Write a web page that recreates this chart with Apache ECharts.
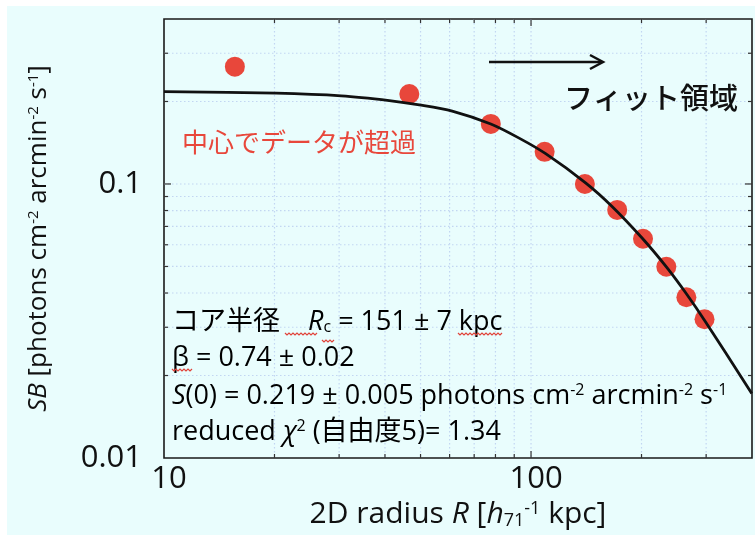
<!DOCTYPE html>
<html>
<head>
<meta charset="utf-8">
<script src="https://cdn.jsdelivr.net/npm/echarts@6/dist/echarts.min.js"></script>
<style>
  html, body { margin: 0; padding: 0; background: #ffffff; }
  #bg { position: absolute; left: 7px; top: 6px; width: 748px; height: 529px; background: #e9fdfd; }
  #chart { position: absolute; left: 0; top: 0; width: 755px; height: 535px; }
</style>
</head>
<body>
<div id="bg"></div>
<div id="chart"></div>
<script>
// ---- data ----
const xTickValues = [10, 100];
const xTickLabels = ['10', '100'];
const yTickValues = [0.01, 0.1];
const yTickLabels = ['0.01', '0.1'];
const xGridValues = [20, 30, 40, 50, 60, 70, 80, 90, 100, 200, 300];
const yGridValues = [0.02, 0.03, 0.04, 0.05, 0.06, 0.07, 0.08, 0.09, 0.1, 0.2, 0.3];

const dataRadius = [15.6, 46.6, 77.7, 108.9, 140.2, 171.7, 201.9, 233.7, 265, 297];
const dataSB = [0.268, 0.213, 0.1657, 0.131, 0.100, 0.0804, 0.0631, 0.0499, 0.0386, 0.0321];

const fitRadius = [10, 20.2, 30.4, 41.1, 49.6, 61.0, 77.7, 92.8, 109.6, 140.8, 166.0, 200.7, 234.6, 265.9, 298.4, 399.4];
const fitSB = [0.2174, 0.2145, 0.2097, 0.2016, 0.1945, 0.1845, 0.1655, 0.1470, 0.1290, 0.1010, 0.0830, 0.0635, 0.0495, 0.0395, 0.0315, 0.0172];

const X_MIN = 10, X_MAX = 400, Y_MIN = 0.01, Y_MAX = 0.4;

// ---- chart ----
const FONT = "'Open Sans', 'Noto Sans CJK JP', sans-serif";
const chart = echarts.init(document.getElementById('chart'), null, { renderer: 'canvas' });

function labelFor(values, labels) {
  return function (v) {
    for (let i = 0; i < values.length; i++) {
      if (Math.abs(Math.log10(v) - Math.log10(values[i])) < 1e-6) return labels[i];
    }
    return '';
  };
}

const GRID_COLOR = '#c2d6f2';
const TICK_COLOR = '#333333';

function gridRender(isX) {
  return function (params, api) {
    const cs = params.coordSys;
    const p = api.coord([api.value(0), api.value(1)]);
    const major = api.value(2) === 1;
    const len = major ? 7 : 4;
    const children = [];
    if (isX) {
      const x = p[0];
      children.push({ type: 'line', shape: { x1: x, y1: cs.y, x2: x, y2: cs.y + cs.height },
        style: { stroke: GRID_COLOR, lineWidth: 1.2, lineDash: [1.5, 2.5] } });
      children.push({ type: 'line', shape: { x1: x, y1: cs.y + cs.height, x2: x, y2: cs.y + cs.height - len },
        style: { stroke: TICK_COLOR, lineWidth: 1.2 } });
      children.push({ type: 'line', shape: { x1: x, y1: cs.y, x2: x, y2: cs.y + len },
        style: { stroke: TICK_COLOR, lineWidth: 1.2 } });
    } else {
      const y = p[1];
      children.push({ type: 'line', shape: { x1: cs.x, y1: y, x2: cs.x + cs.width, y2: y },
        style: { stroke: GRID_COLOR, lineWidth: 1.2, lineDash: [1.5, 2.5] } });
      children.push({ type: 'line', shape: { x1: cs.x, y1: y, x2: cs.x + len, y2: y },
        style: { stroke: TICK_COLOR, lineWidth: 1.2 } });
      children.push({ type: 'line', shape: { x1: cs.x + cs.width, y1: y, x2: cs.x + cs.width - len, y2: y },
        style: { stroke: TICK_COLOR, lineWidth: 1.2 } });
    }
    return { type: 'group', children: children };
  };
}

const supStyle = { fontSize: 16, verticalAlign: 'top', lineHeight: 15, fontFamily: FONT, color: '#111' };
const subStyle = { fontSize: 16, verticalAlign: 'bottom', lineHeight: 15, fontFamily: FONT, color: '#111' };

function zigzag(x1, x2, y) {
  const pts = [];
  let up = true;
  for (let x = x1; x <= x2; x += 2) { pts.push([x, up ? y - 1 : y + 1]); up = !up; }
  return { type: 'polyline', z: 11, shape: { points: pts }, style: { stroke: '#e0433a', lineWidth: 1.2, fill: null }, silent: true };
}

const statsRich = {
  base: { fontSize: 27, fontFamily: FONT, color: '#111' },
  i: { fontSize: 27, fontFamily: FONT, fontStyle: 'italic', color: '#111' },
  sup: supStyle,
  sub: subStyle
};

const option = {
  animation: false,
  backgroundColor: 'transparent',
  grid: { left: 164, top: 19, width: 590, height: 439, show: true, backgroundColor: 'transparent',
          borderColor: '#1a1a1a', borderWidth: 1.6 },
  xAxis: {
    type: 'log', logBase: 10, min: X_MIN, max: X_MAX,
    axisLine: { show: false }, axisTick: { show: false }, splitLine: { show: false },
    axisLabel: { fontSize: 31, fontFamily: FONT, color: '#111', margin: 6, padding: [0, 0, 0, 10],
                 formatter: labelFor(xTickValues, xTickLabels), showMinLabel: true, showMaxLabel: true },
    name: '2D radius {i|R} [{i|h}{sub|71}{sup|-1} kpc]',
    nameLocation: 'middle', nameGap: 38,
    nameTextStyle: { fontSize: 30, fontFamily: FONT, color: '#111',
      rich: { i: { fontSize: 30, fontStyle: 'italic', fontFamily: FONT, color: '#111' },
              sub: { fontSize: 18, verticalAlign: 'bottom', lineHeight: 16, fontFamily: FONT, color: '#111' },
              sup: { fontSize: 18, verticalAlign: 'top', lineHeight: 16, fontFamily: FONT, color: '#111' } } }
  },
  yAxis: {
    type: 'log', logBase: 10, min: Y_MIN, max: Y_MAX,
    axisLine: { show: false }, axisTick: { show: false }, splitLine: { show: false },
    axisLabel: { fontSize: 31, fontFamily: FONT, color: '#111', margin: 22, formatter: labelFor(yTickValues, yTickLabels) },
    name: '{i|SB} [photons cm{sup|-2} arcmin{sup|-2} s{sup|-1}]',
    nameLocation: 'middle', nameGap: 112,
    nameTextStyle: { fontSize: 26, fontFamily: FONT, color: '#111',
      rich: { i: { fontSize: 26, fontStyle: 'italic', fontFamily: FONT, color: '#111' },
              sup: { fontSize: 15, verticalAlign: 'top', lineHeight: 15, fontFamily: FONT, color: '#111' } } }
  },
  series: [
    { type: 'custom', name: 'xgrid', z: 1, silent: true, clip: false,
      data: xGridValues.map(v => [v, Y_MIN, xTickValues.indexOf(v) >= 0 ? 1 : 0]),
      encode: { x: 0, y: 1 }, renderItem: gridRender(true) },
    { type: 'custom', name: 'ygrid', z: 1, silent: true, clip: false,
      data: yGridValues.map(v => [X_MIN, v, yTickValues.indexOf(v) >= 0 ? 1 : 0]),
      encode: { x: 0, y: 1 }, renderItem: gridRender(false) },
    { type: 'scatter', name: 'data', z: 3, symbol: 'circle', symbolSize: 20,
      itemStyle: { color: '#e8473b', opacity: 1 },
      data: dataRadius.map((r, i) => [r, dataSB[i]]) },
    { type: 'line', name: 'fit', z: 4, showSymbol: false, smooth: 0.3, clip: true,
      lineStyle: { color: '#111', width: 2.8 },
      data: fitRadius.map((r, i) => [r, fitSB[i]]) }
  ],
  graphic: [
    // arrow
    { type: 'line', shape: { x1: 489, y1: 62, x2: 602, y2: 62 }, style: { stroke: '#111', lineWidth: 2.5 }, z: 10 },
    { type: 'polyline', shape: { points: [[590, 55], [603, 62], [590, 69]] }, style: { stroke: '#111', lineWidth: 2.5, fill: null }, z: 10 },
    { type: 'text', x: 564, y: 101, z: 10,
      style: { text: 'フィット領域', fontSize: 29, fontWeight: 500, fontFamily: FONT, fill: '#111', verticalAlign: 'middle', align: 'left' } },
    { type: 'text', x: 182, y: 145, z: 10,
      style: { text: '中心でデータが超過', fontSize: 26, fontFamily: FONT, fill: '#e8473b', verticalAlign: 'middle', align: 'left' } },
    // stats block
    { type: 'text', x: 172, y: 322, z: 10,
      style: { text: '{base|コア半径    }{i|R}{sub|c}{base| = 151 ± 7 kpc}', rich: statsRich, verticalAlign: 'middle', align: 'left' } },
    { type: 'text', x: 172, y: 358, z: 10,
      style: { text: '{base|β = 0.74 ± 0.02}', rich: statsRich, verticalAlign: 'middle', align: 'left' } },
    { type: 'text', x: 172, y: 396, z: 10,
      style: { text: '{i|S}{base|(0) = 0.219 ± 0.005 photons cm}{sup|-2}{base| arcmin}{sup|-2}{base| s}{sup|-1}', rich: statsRich, verticalAlign: 'middle', align: 'left' } },
    { type: 'text', x: 172, y: 432, z: 10,
      style: { text: '{base|reduced }{i|χ}{sup|2}{base| (自由度5)= 1.34}', rich: statsRich, verticalAlign: 'middle', align: 'left' } },
    // spell-check squiggles seen in the reference
    zigzag(285, 318, 334),
    zigzag(322, 334, 341),
    zigzag(458, 502, 334),
    zigzag(172, 192, 370)
  ]
};

chart.setOption(option);
</script>
</body>
</html>
